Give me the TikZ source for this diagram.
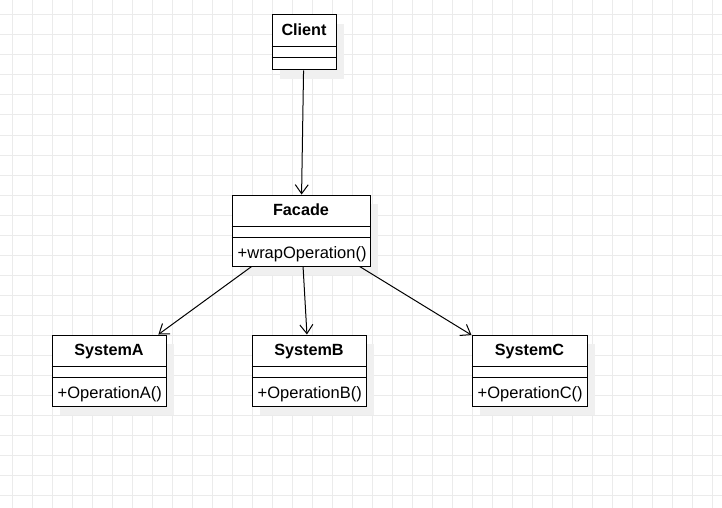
\documentclass[tikz,border=0pt]{standalone}
\usepackage{fontspec}
\setmainfont{Liberation Sans}
\usetikzlibrary{arrows.meta,calc,shadows}

\tikzset{
  gridline/.style={draw=black!8, line width=1pt},
  classbox/.style={draw, fill=white, line width=1pt, inner sep=0pt,
    drop shadow={shadow xshift=8pt, shadow yshift=-9pt, fill=black!6, opacity=1}},
  divider/.style={line width=1pt},
  classname/.style={anchor=base, inner sep=0pt, font=\fontsize{16.2}{19}\selectfont\bfseries},
  opname/.style={anchor=base west, inner sep=0pt, xshift=6pt, font=\fontsize{16.5}{19}\selectfont},
  uses/.style={-{Straight Barb[length=9pt,width=13pt]}, line width=1pt}
}

\begin{document}
\begin{tikzpicture}[x=1pt, y=-1pt]
  \useasboundingbox[fill=white] (0,0) rectangle (722,508);
  % background grid
  \foreach \gx in {12,32,...,712} \draw[gridline] (\gx,0) -- (\gx,508);
  \foreach \gy in {15,35,...,495} \draw[gridline] (0,\gy) -- (722,\gy);

  % Client
  \node[classbox, minimum width=64, minimum height=55] (client) at (304,42.5) {};
  \node[classname] (clientname) at ($(client.north)+(0,20.7)$) {Client};
  \draw[divider] ($(client.north west)+(0,31.7)$) -- ($(client.north east)+(0,31.7)$);
  \draw[divider] ($(client.north west)+(0,43.3)$) -- ($(client.north east)+(0,43.3)$);

  % Facade
  \node[classbox, minimum width=138, minimum height=71] (facade) at (301,230.5) {};
  \node[classname] (facadename) at ($(facade.north)+(0,20.7)$) {Facade};
  \draw[divider] ($(facade.north west)+(0,31.7)$) -- ($(facade.north east)+(0,31.7)$);
  \draw[divider] ($(facade.north west)+(0,43.3)$) -- ($(facade.north east)+(0,43.3)$);
  \node[opname] (facadeop) at ($(facade.south west)+(0,-7.7)$) {+wrapOperation()};

  % SystemA
  \node[classbox, minimum width=114, minimum height=71] (systema) at (109,370.5) {};
  \node[classname] (systemaname) at ($(systema.north)+(0,20.7)$) {SystemA};
  \draw[divider] ($(systema.north west)+(0,31.7)$) -- ($(systema.north east)+(0,31.7)$);
  \draw[divider] ($(systema.north west)+(0,43.3)$) -- ($(systema.north east)+(0,43.3)$);
  \node[opname] (systemaop) at ($(systema.south west)+(0,-7.7)$) {+OperationA()};

  % SystemB
  \node[classbox, minimum width=114, minimum height=71] (systemb) at (309,370.5) {};
  \node[classname] (systembname) at ($(systemb.north)+(0,20.7)$) {SystemB};
  \draw[divider] ($(systemb.north west)+(0,31.7)$) -- ($(systemb.north east)+(0,31.7)$);
  \draw[divider] ($(systemb.north west)+(0,43.3)$) -- ($(systemb.north east)+(0,43.3)$);
  \node[opname] (systembop) at ($(systemb.south west)+(0,-7.7)$) {+OperationB()};

  % SystemC
  \node[classbox, minimum width=115, minimum height=71] (systemc) at (529.5,370.5) {};
  \node[classname] (systemcname) at ($(systemc.north)+(0,20.7)$) {SystemC};
  \draw[divider] ($(systemc.north west)+(0,31.7)$) -- ($(systemc.north east)+(0,31.7)$);
  \draw[divider] ($(systemc.north west)+(0,43.3)$) -- ($(systemc.north east)+(0,43.3)$);
  \node[opname] (systemcop) at ($(systemc.south west)+(0,-7.7)$) {+OperationC()};

  % associations
  \draw[uses] (client) -- (facade);
  \draw[uses] (facade) -- (systema);
  \draw[uses] (facade) -- (systemb);
  \draw[uses] (facade) -- (systemc);
\end{tikzpicture}
\end{document}
